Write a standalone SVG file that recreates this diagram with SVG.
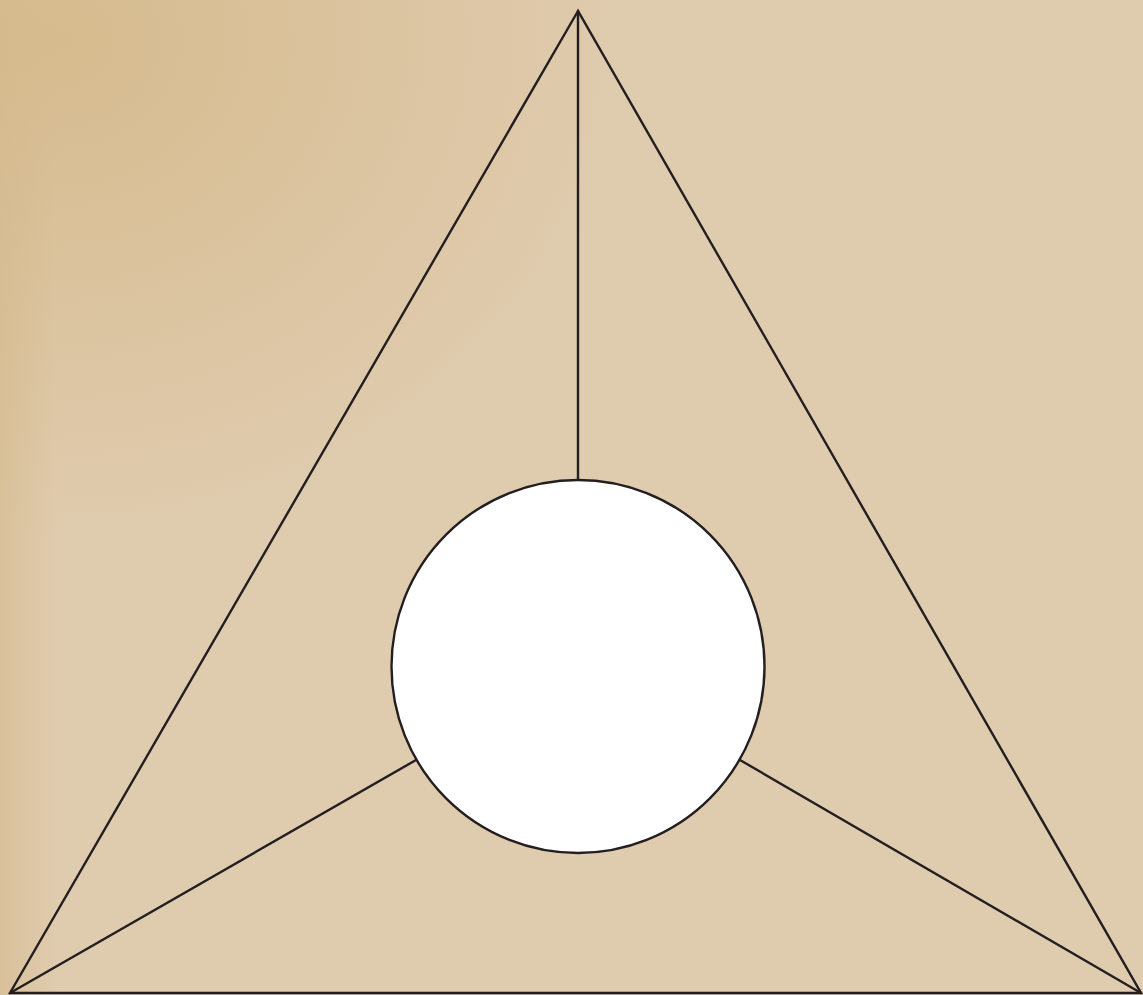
<svg xmlns="http://www.w3.org/2000/svg" width="1143" height="995" viewBox="0 0 1143 995">
<defs>
<radialGradient id="bgTint" cx="0.05" cy="0.04" r="0.5">
<stop offset="0" stop-color="#d5b98a" stop-opacity="0.9"/>
<stop offset="1" stop-color="#d5b98a" stop-opacity="0"/>
</radialGradient>
<linearGradient id="edgeL" x1="0" y1="0" x2="1" y2="0">
<stop offset="0" stop-color="#d4b98c" stop-opacity="0.6"/>
<stop offset="0.05" stop-color="#d4b98c" stop-opacity="0"/>
</linearGradient>
</defs>
<style>
.ln{stroke:#231f20;stroke-width:2.4;fill:none;stroke-linecap:round}
.nd{stroke:#231f20;stroke-width:2.4;fill:#ffffff}
</style>
<rect x="0" y="0" width="1143" height="995" fill="#dfcbae"/>
<rect x="0" y="0" width="1143" height="995" fill="url(#bgTint)"/>
<rect x="0" y="0" width="1143" height="995" fill="url(#edgeL)"/>
<g id="connectors">
<polygon class="ln" points="578,11 10,993 1141,993" stroke-linejoin="miter"/>
<line class="ln" x1="578" y1="11" x2="578" y2="480"/>
<line class="ln" x1="10" y1="993" x2="416" y2="760"/>
<line class="ln" x1="1141" y1="993" x2="740" y2="760"/>
</g>
<g id="center">
<circle class="nd" cx="578" cy="666.5" r="186.5"/>
</g>
</svg>
